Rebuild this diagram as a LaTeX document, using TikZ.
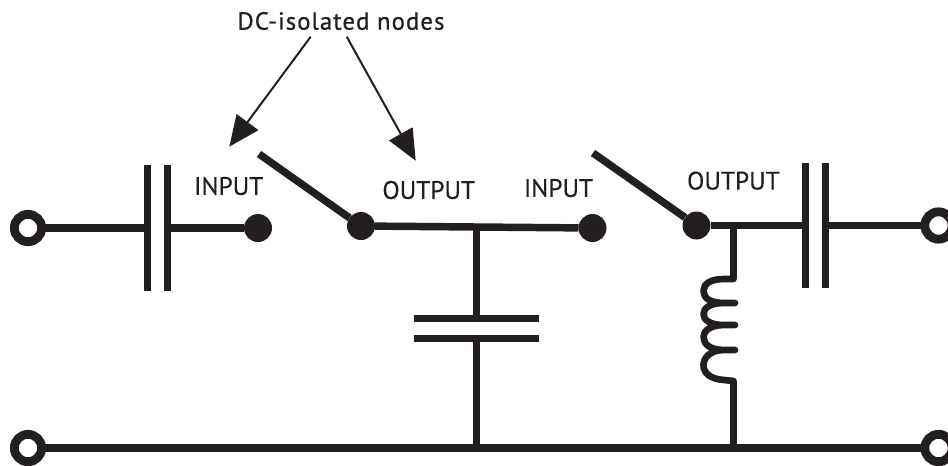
\documentclass[tikz,border=0pt]{standalone}
\usepackage{fontspec}
\setmainfont{PT Sans}
\usetikzlibrary{arrows.meta}
\definecolor{ink}{HTML}{231F20}
\tikzset{
  wire/.style={draw=ink,line width=5.6pt},
  coil/.style={draw=ink,line width=5pt,line cap=round,line join=round},
  lead/.style={draw=ink,line width=1.5pt,-{Triangle[length=23pt,width=20pt,fill=ink]}},
  dot/.style={circle,fill=ink,draw=none,inner sep=0pt,outer sep=0pt,minimum size=21pt},
  terminal/.style={circle,draw=ink,fill=white,line width=6.6pt,inner sep=0pt,outer sep=0pt,minimum size=20.5pt},
  vplate/.style={rectangle,fill=ink,draw=none,inner sep=0pt,outer sep=0pt,minimum width=5.4pt,minimum height=94pt},
  hplate/.style={rectangle,fill=ink,draw=none,inner sep=0pt,outer sep=0pt,minimum width=94pt,minimum height=5.4pt},
  lbl/.style={text=ink,inner sep=0pt,font=\fontsize{19}{22}\selectfont\addfontfeature{FakeBold=0.25}},
  title/.style={text=ink,inner sep=0pt,font=\fontsize{18.5}{22}\selectfont\addfontfeature{FakeBold=0.9,LetterSpace=4.5}},
}
\begin{document}
\begin{tikzpicture}[x=0.75pt,y=-0.75pt]
\useasboundingbox (0,0) rectangle (948,465);
% nodes
\node[dot] (i1) at (258,228) {};
\node[dot] (s1) at (361,226) {};
\node[dot] (i2) at (592.5,228) {};
\node[dot] (s2) at (696.5,225.5) {};
\node[vplate] (c1a) at (147.5,228) {};
\node[vplate] (c1b) at (167.5,228) {};
\node[vplate] (c3a) at (805.7,225.5) {};
\node[vplate] (c3b) at (825.7,225.5) {};
\node[hplate] (c2a) at (476.5,318.5) {};
\node[hplate] (c2b) at (476.5,338.5) {};
\coordinate (j1) at (476.5,227);
\coordinate (j2) at (733.5,225.5);
\coordinate (j3) at (476.5,448);
\coordinate (j4) at (733.5,448);
\coordinate (a1) at (259,154);
\coordinate (a2) at (593,153);
\coordinate (l1) at (733.5,279);
\coordinate (l2) at (733.5,381);
\coordinate (t1c) at (28,228);
\coordinate (t2c) at (938.5,225.5);
\coordinate (t3c) at (28,448);
\coordinate (t4c) at (938.5,448);
% wires
\draw[wire] (t1c) -- (c1a);
\draw[wire] (c1b) -- (i1);
\draw[wire] (a1) -- (s1);
\draw[wire] (s1) -- (i2);
\draw[wire] (a2) -- (s2);
\draw[wire] (s2) -- (c3a);
\draw[wire] (c3b) -- (t2c);
\draw[wire] (j1) -- (c2a);
\draw[wire] (c2b) -- (j3);
\draw[wire] (t3c) -- (t4c);
\draw[wire] (j2) -- (l1);
\draw[wire] (l2) -- (j4);
% terminals on top of their wires
\node[terminal] (t1) at (t1c) {};
\node[terminal] (t2) at (t2c) {};
\node[terminal] (t3) at (t3c) {};
\node[terminal] (t4) at (t4c) {};
% inductor
\draw[coil] (l1) -- (724,279)
  .. controls (710,279) and (703.5,284) .. (703.5,291)
  .. controls (703.5,298) and (710,303) .. (724,303) -- (735,303) -- (724,303)
  .. controls (710,303) and (703.5,308) .. (703.5,314)
  .. controls (703.5,320) and (710,325) .. (724,325) -- (735,325) -- (724,325)
  .. controls (710,325) and (703.5,331) .. (703.5,337)
  .. controls (703.5,344) and (710,350) .. (724,350) -- (735,350) -- (724,350)
  .. controls (710,350) and (703.5,358) .. (703.5,365)
  .. controls (703.5,373) and (710,379) .. (724,380) -- (l2);
% labels
\node[title] (dc) at (341,21) {DC-isolated nodes};
\node[lbl] (n1) at (228.7,186) {INPUT};
\node[lbl] (n2) at (428.7,190) {OUTPUT};
\node[lbl] (n3) at (558.5,188) {INPUT};
\node[lbl] (n4) at (733.4,180.7) {OUTPUT};
% callouts
\coordinate (d1) at (310.7,36.7);
\coordinate (d2) at (346.7,36.7);
\coordinate (h1) at (229.3,146.7);
\coordinate (h2) at (415.7,160.7);
\draw[lead] (d1) -- (h1);
\draw[lead] (d2) -- (h2);
\end{tikzpicture}
\end{document}
